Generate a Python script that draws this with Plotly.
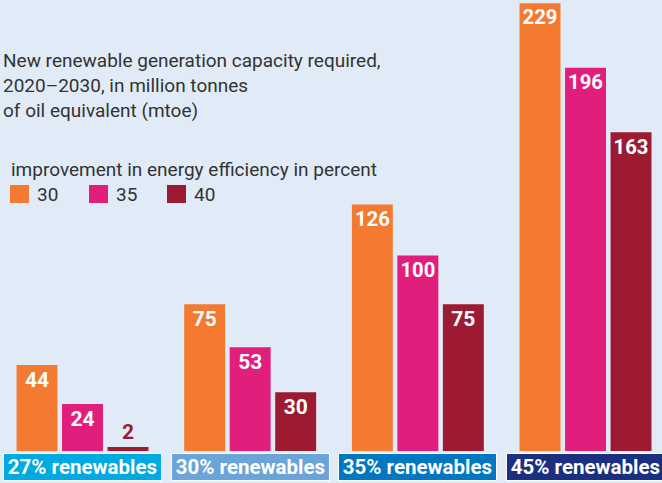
import plotly.graph_objects as go

# ---- data ----
categories = ["27% renewables", "30% renewables", "35% renewables", "45% renewables"]
efficiency_levels = ["30", "35", "40"]
values_30 = [44, 75, 126, 229]
values_35 = [24, 53, 100, 196]
values_40 = [2, 30, 75, 163]
series_values = [values_30, values_35, values_40]
series_colors = ["#F47A32", "#E11E7B", "#9C1A32"]
category_colors = ["#00A9DF", "#6AA4D8", "#0077C0", "#1B2F80"]

title_lines = [
    "New renewable generation capacity required,",
    "2020–2030, in million tonnes",
    "of oil equivalent (mtoe)",
]
legend_title = "improvement in energy efficiency in percent"

W, H = 662, 483
BG = "#E0EBF7"
TXT = "#333333"

fig = go.Figure()
for name, vals, col in zip(efficiency_levels, series_values, series_colors):
    positions = ["outside" if v < 10 else "inside" for v in vals]
    fig.add_trace(go.Bar(
        x=categories, y=vals, name=name,
        marker=dict(color=col, line=dict(width=0)),
        text=[str(v) for v in vals],
        textposition=positions,
        insidetextanchor="end",
        insidetextfont=dict(color="white", size=21, family="Roboto", weight="bold"),
        outsidetextfont=dict(color=col, size=21, family="Roboto", weight="bold"),
        textangle=0,
        cliponaxis=False,
        showlegend=False,
    ))

annotations = []
# title lines
title_y = [60, 85, 110]
for line, yp in zip(title_lines, title_y):
    annotations.append(dict(
        text=line, xref="paper", yref="paper",
        x=1 / W, y=1 - yp / H, xanchor="left", yanchor="middle",
        showarrow=False, font=dict(family="Roboto", size=19, color=TXT),
    ))
# legend title
annotations.append(dict(
    text=legend_title, xref="paper", yref="paper",
    x=9 / W, y=1 - 169 / H, xanchor="left", yanchor="middle",
    showarrow=False, font=dict(family="Roboto", size=19, color=TXT),
))
# legend entries
shapes = []
sw_x = [10, 89, 167]
for name, col, sx in zip(efficiency_levels, series_colors, sw_x):
    shapes.append(dict(type="rect", xref="paper", yref="paper",
                       x0=sx / W, x1=(sx + 19) / W,
                       y0=1 - 203 / H, y1=1 - 185 / H,
                       fillcolor=col, line=dict(width=0)))
    annotations.append(dict(
        text=name, xref="paper", yref="paper",
        x=(sx + 25) / W, y=1 - 194.5 / H, xanchor="left", yanchor="middle",
        showarrow=False, font=dict(family="Roboto", size=19, color=TXT),
    ))
# category label boxes
for cat, col in zip(categories, category_colors):
    annotations.append(dict(
        text=cat, xref="x", yref="paper",
        x=cat, y=1 - 467 / H, xanchor="center", yanchor="middle",
        showarrow=False, width=157, height=26, align="center",
        bgcolor=col, bordercolor="white", borderwidth=1, borderpad=0,
        font=dict(family="Roboto", size=20.5, color="white", weight="bold"),
    ))

fig.update_layout(
    width=W, height=H,
    margin=dict(l=0, r=0, t=0, b=0),
    paper_bgcolor=BG, plot_bgcolor=BG,
    barmode="group", bargap=0.186, bargroupgap=0.1,
    xaxis=dict(range=[-0.492, 3.456], visible=False, fixedrange=True),
    yaxis=dict(range=[-16.36, 230.6], visible=False, fixedrange=True),
    annotations=annotations, shapes=shapes,
)

fig.write_html(
    "out.html",
    config={"displayModeBar": False},
    post_script="document.body.style.margin='0';document.body.style.padding='0';document.body.style.overflow='hidden';",
)
